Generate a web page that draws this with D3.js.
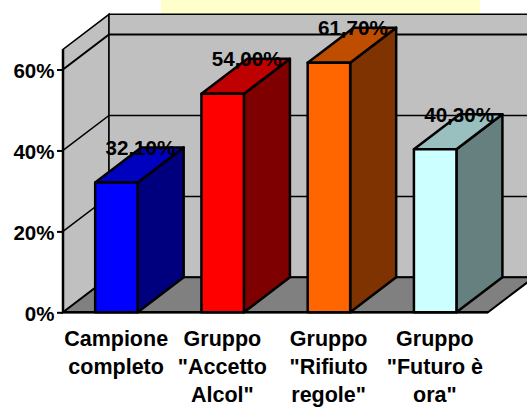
<!DOCTYPE html>
<html><head><meta charset="utf-8">
<script src="https://cdn.jsdelivr.net/npm/d3@7"></script>
<style>html,body{margin:0;padding:0;background:#fff}svg{display:block}text{font-family:"Liberation Sans",Arial,sans-serif;font-weight:bold;fill:#000}</style>
</head><body><svg id="c" width="527" height="407"></svg>
<script>
const categories = [["Campione","completo"],["Gruppo","\"Accetto","Alcol\""],["Gruppo","\"Rifiuto","regole\""],["Gruppo","\"Futuro è","ora\""]];
const values = [32.1,54.0,61.7,40.3];
const valueLabels = ["32,10%","54,00%","61,70%","40,30%"];
const frontColors = ["#0000ff","#ff0000","#ff6600","#ccffff"];
const topColors = ["#0000bf","#bf0000","#bf4d00","#99bfbf"];
const sideColors = ["#00007f","#7f0000","#7f3300","#667f7f"];
const yTicks = [0,20,40,60];

const svg = d3.select("#c");
const x = d3.scaleBand().domain(d3.range(values.length)).range([63,488]);
const y = d3.scaleLinear().domain([0,65]).range([312.3,49.3]);
const dx = 46, dy = -35, barW = 42.5;
const line = (pts)=>"M"+pts.map(p=>p.join(",")).join("L");
const poly = (pts)=>line(pts)+"Z";

svg.append("rect").attr("x",161).attr("y",0).attr("width",319).attr("height",14).attr("fill","#ffffcc");

const x0=x.range()[0], x1=x.range()[1], yb=y(0), yt=y(65);
svg.append("path").attr("d",poly([[x0,yb],[x0,yt],[x0+dx,yt+dy],[x0+dx,yb+dy]])).attr("fill","#c0c0c0").attr("stroke","#000").attr("stroke-width",1.5);
svg.append("path").attr("d",poly([[x0+dx,yb+dy],[x0+dx,yt+dy],[x1+dx,yt+dy],[x1+dx,yb+dy]])).attr("fill","#c0c0c0").attr("stroke","#000").attr("stroke-width",1.5);
svg.append("path").attr("d",poly([[x0,yb],[x0+dx,yb+dy],[x1+dx,yb+dy],[x1,yb]])).attr("fill","#808080").attr("stroke","#000").attr("stroke-width",2);
yTicks.filter(t=>t>0).forEach(t=>{
  svg.append("path").attr("d",line([[x0,y(t)],[x0+dx,y(t)+dy],[x1+dx,y(t)+dy]])).attr("fill","none").attr("stroke","#000").attr("stroke-width",t===60?2:1.5);
});
svg.append("path").attr("d",line([[x0,yb],[x0,yt]])).attr("stroke","#000").attr("stroke-width",2.5);
const axis = d3.axisLeft(y).tickValues(yTicks).tickFormat(d=>d+"%").tickSize(6).tickPadding(2.5);
const ga = svg.append("g").attr("transform",`translate(${x0},0)`).call(axis);
ga.select(".domain").remove();
ga.selectAll("line").attr("stroke","#000").attr("stroke-width",2);
ga.selectAll("text").attr("font-size",20.5).attr("font-family",null).attr("dy","0.38em");
svg.append("path").attr("d",line([[x0,yb],[x1,yb]])).attr("stroke","#000").attr("stroke-width",2.5);

values.forEach((v,i)=>{
  const l = x(i)+(x.bandwidth()-barW)/2+0.3, r=l+barW, t=y(v), b=y(0);
  const g = svg.append("g").attr("stroke","#000").attr("stroke-width",2.5).attr("stroke-linejoin","round");
  g.append("path").attr("d",poly([[r,b],[r,t],[r+dx,t+dy],[r+dx,b+dy]])).attr("fill",sideColors[i]);
  g.append("path").attr("d",poly([[l,t],[l+dx,t+dy],[r+dx,t+dy],[r,t]])).attr("fill",topColors[i]);
  g.append("path").attr("d",poly([[l,b],[l,t],[r,t],[r,b]])).attr("fill",frontColors[i]);
});
values.forEach((v,i)=>{
  svg.append("text").attr("x",x(i)+x.bandwidth()/2+24.3).attr("y",y(v)+dy+7.5).attr("text-anchor","middle").attr("font-size",20.6).text(valueLabels[i]);
});
categories.forEach((c,i)=>{
  const t = svg.append("text").attr("text-anchor","middle").attr("font-size",21.5);
  c.forEach((s,j)=>t.append("tspan").attr("x",x(i)+x.bandwidth()/2).attr("y",yb+33.2+j*28.3).text(s));
});
</script></body></html>
